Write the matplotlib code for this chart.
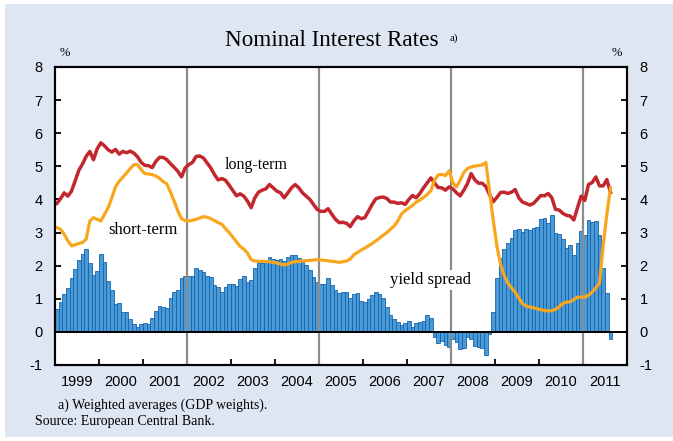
import matplotlib
matplotlib.use("Agg")
import matplotlib.pyplot as plt
from matplotlib.patches import Rectangle
import numpy as np

# ---------------- data (monthly, Jan 1999 - Aug 2011) ----------------
long_term = [
    3.88, 4.02, 4.20, 4.10, 4.25, 4.57, 4.88, 5.07, 5.30, 5.45, 5.20, 5.53,   # 1999
    5.71, 5.62, 5.50, 5.43, 5.51, 5.37, 5.45, 5.41, 5.46, 5.40, 5.29, 5.12,   # 2000
    5.03, 5.02, 4.96, 5.15, 5.27, 5.27, 5.20, 5.08, 4.97, 4.85, 4.68, 4.95,   # 2001
    5.05, 5.12, 5.30, 5.31, 5.25, 5.10, 4.95, 4.75, 4.59, 4.63, 4.58, 4.43,   # 2002
    4.27, 4.11, 4.17, 4.10, 3.95, 3.75, 4.05, 4.22, 4.28, 4.32, 4.45, 4.35,   # 2003
    4.25, 4.20, 4.05, 4.20, 4.35, 4.45, 4.35, 4.20, 4.10, 4.00, 3.85, 3.70,   # 2004
    3.64, 3.64, 3.72, 3.55, 3.40, 3.30, 3.31, 3.28, 3.18, 3.35, 3.48, 3.42,   # 2005
    3.45, 3.65, 3.85, 4.02, 4.06, 4.07, 4.03, 3.92, 3.92, 3.88, 3.90, 3.85,   # 2006
    4.00, 4.12, 4.05, 4.18, 4.35, 4.50, 4.65, 4.50, 4.36, 4.35, 4.28, 4.38,   # 2007
    4.32, 4.20, 4.11, 4.28, 4.48, 4.78, 4.59, 4.49, 4.49, 4.39, 4.15, 3.93,   # 2008
    4.06, 4.21, 4.22, 4.18, 4.22, 4.30, 4.05, 3.92, 3.88, 3.83, 3.88, 4.00,   # 2009
    4.12, 4.11, 4.18, 4.05, 3.70, 3.68, 3.58, 3.52, 3.50, 3.38, 3.75, 4.10,   # 2010
    3.97, 4.45, 4.51, 4.68, 4.41, 4.41, 4.60, 4.21,                           # 2011
]

short_term = [
    3.15, 3.10, 2.95, 2.75, 2.60, 2.63, 2.67, 2.70, 2.80, 3.35, 3.45, 3.40,   # 1999
    3.35, 3.55, 3.75, 4.05, 4.38, 4.55, 4.67, 4.80, 4.93, 5.05, 5.05, 4.90,   # 2000
    4.78, 4.77, 4.75, 4.71, 4.64, 4.54, 4.47, 4.22, 3.95, 3.65, 3.42, 3.36,   # 2001
    3.35, 3.37, 3.40, 3.44, 3.48, 3.46, 3.42, 3.36, 3.30, 3.25, 3.12, 3.00,   # 2002
    2.86, 2.72, 2.58, 2.50, 2.38, 2.18, 2.14, 2.13, 2.13, 2.13, 2.12, 2.10,   # 2003
    2.08, 2.05, 2.02, 2.05, 2.10, 2.12, 2.13, 2.14, 2.15, 2.16, 2.17, 2.18,   # 2004
    2.17, 2.16, 2.15, 2.13, 2.12, 2.10, 2.12, 2.14, 2.20, 2.33, 2.40, 2.47,   # 2005
    2.53, 2.60, 2.67, 2.75, 2.83, 2.92, 3.00, 3.10, 3.20, 3.35, 3.56, 3.66,   # 2006
    3.74, 3.82, 3.92, 3.98, 4.06, 4.15, 4.26, 4.58, 4.74, 4.76, 4.72, 4.87,   # 2007
    4.50, 4.38, 4.58, 4.81, 4.94, 4.98, 5.01, 5.02, 5.04, 5.12, 4.25, 3.40,   # 2008
    2.60, 2.05, 1.70, 1.47, 1.33, 1.20, 1.02, 0.85, 0.78, 0.75, 0.73, 0.70,   # 2009
    0.67, 0.65, 0.63, 0.64, 0.68, 0.76, 0.86, 0.90, 0.91, 0.98, 1.05, 1.05,   # 2010
    1.05, 1.11, 1.20, 1.33, 1.47, 2.60, 3.55, 4.35,                           # 2011
]

yield_spread = [
    0.70, 0.89, 1.14, 1.34, 1.62, 1.89, 2.17, 2.35, 2.49, 2.09, 1.71, 1.85,   # 1999
    2.35, 2.12, 1.54, 1.27, 0.84, 0.86, 0.61, 0.61, 0.39, 0.25, 0.14, 0.24,   # 2000
    0.27, 0.24, 0.42, 0.64, 0.77, 0.75, 0.72, 1.02, 1.19, 1.27, 1.62, 1.69,   # 2001
    1.69, 1.70, 1.92, 1.87, 1.82, 1.70, 1.67, 1.41, 1.36, 1.21, 1.36, 1.46,   # 2002
    1.44, 1.38, 1.59, 1.69, 1.52, 1.57, 1.94, 2.07, 2.09, 2.15, 2.25, 2.20,   # 2003
    2.17, 2.19, 2.15, 2.27, 2.32, 2.32, 2.22, 2.12, 2.02, 1.87, 1.67, 1.52,   # 2004
    1.46, 1.46, 1.62, 1.41, 1.26, 1.16, 1.19, 1.19, 1.01, 1.14, 1.16, 0.94,   # 2005
    0.91, 0.98, 1.10, 1.21, 1.13, 1.01, 0.76, 0.52, 0.38, 0.30, 0.22, 0.28,   # 2006
    0.32, 0.14, 0.28, 0.30, 0.32, 0.50, 0.42, -0.15, -0.35, -0.27, -0.40, -0.45,  # 2007
    -0.20, -0.30, -0.52, -0.48, -0.15, -0.20, -0.42, -0.45, -0.50, -0.70, -0.05, 0.60,  # 2008
    1.64, 2.22, 2.49, 2.67, 2.84, 3.07, 3.10, 3.03, 3.10, 3.08, 3.13, 3.16,   # 2009
    3.40, 3.43, 3.30, 3.52, 2.98, 2.95, 2.80, 2.52, 2.63, 2.32, 2.68, 3.05,   # 2010
    2.92, 3.38, 3.33, 3.35, 2.93, 1.94, 1.16, -0.20,                          # 2011
]

start_year = 1999
years = list(range(1999, 2012))
year_labels = [str(y) for y in years]
separator_years = [2002, 2005, 2008, 2011]
y_ticks = list(range(-1, 9))

# ---------------- figure ----------------
W, H = 673, 441
fig = plt.figure(figsize=(W / 100, H / 100), dpi=100)
fig.patch.set_facecolor("white")
fig.add_artist(Rectangle((5 / W, 4 / H), (W - 5) / W, (437 - 4) / H,
                         transform=fig.transFigure, facecolor="#DFE6F3",
                         edgecolor="none", zorder=-10))

ax = fig.add_axes([55 / W, 1 - 365 / H, 572 / W, 298 / H])
ax.set_facecolor("white")

n = len(long_term)
t = start_year + (np.arange(n) + 0.5) / 12.0

ax.bar(t, yield_spread, width=1 / 12.0, facecolor="#4A9AD6",
       edgecolor="#1562AE", linewidth=0.6, zorder=2)

for sy in separator_years:
    ax.axvline(sy, color="#8C8C8C", linewidth=1.6, zorder=2.5)

ax.axhline(0, color="black", linewidth=1.4, zorder=2.6)

ax.plot(t, long_term, color="#C1272D", linewidth=2.5, zorder=3,
        solid_joinstyle="round")
ax.plot(t, short_term, color="#F9A61C", linewidth=2.3, zorder=3.2,
        solid_joinstyle="round")

ax.set_xlim(1999, 2012)
ax.set_ylim(-1, 8)

for s in ax.spines.values():
    s.set_linewidth(1.5)
    s.set_color("black")

ax.set_xticks(years[:] + [2012])
ax.set_xticklabels([])
ax.set_xticks([y + 0.5 for y in years], minor=True)
ax.set_xticklabels(year_labels, minor=True, family="Liberation Sans", fontsize=10.5)
ax.tick_params(axis="x", which="major", direction="in", length=4, width=1.3)
ax.tick_params(axis="x", which="minor", length=0, pad=7)

ax.set_yticks(y_ticks)
ax.set_yticklabels([str(v) for v in y_ticks], family="Liberation Sans", fontsize=10.5)
ax.tick_params(axis="y", direction="in", length=4, width=1.3, pad=9)

ax2 = ax.twinx()
ax2.set_ylim(-1, 8)
ax2.set_yticks(y_ticks)
ax2.set_yticklabels([str(v) for v in y_ticks], family="Liberation Sans", fontsize=10.5)
ax2.tick_params(axis="y", direction="in", length=4, width=1.3, pad=9)
for s in ax2.spines.values():
    s.set_linewidth(1.5)
    s.set_color("black")

# in-plot labels
serif = "Liberation Serif"
ax.text(2002.86, 5.05, "long-term", family=serif, fontsize=11.5, va="center",
        ha="left", zorder=5)
ax.text(2000.2, 3.08, "short-term", family=serif, fontsize=12, va="center",
        ha="left", zorder=5)
ax.text(2006.61, 1.57, "yield spread", family=serif, fontsize=12, va="center",
        ha="left", zorder=5,
        bbox=dict(facecolor="white", edgecolor="none", pad=1.5))

# percent markers
fig.text(60 / W, 1 - 53 / H, "%", family=serif, fontsize=9, ha="left", va="center")
fig.text(612 / W, 1 - 53 / H, "%", family=serif, fontsize=9, ha="left", va="center")

# title
fig.text(332 / W, 1 - 46.5 / H, "Nominal Interest Rates", family=serif,
         fontsize=16.7, ha="center", va="baseline")
fig.text(450 / W, 1 - 40.5 / H, "a)", family=serif, fontsize=8,
         ha="left", va="baseline")

# footnotes
fig.text(58 / W, 1 - 405 / H, "a) Weighted averages (GDP weights).",
         family=serif, fontsize=10, ha="left", va="center")
fig.text(35 / W, 1 - 422 / H, "Source: European Central Bank.",
         family=serif, fontsize=10, ha="left", va="center")

fig.savefig("out.png", dpi=100, facecolor=fig.get_facecolor())
